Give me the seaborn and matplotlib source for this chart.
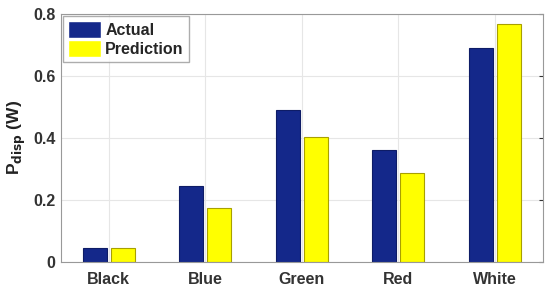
import matplotlib
matplotlib.use("Agg")
import matplotlib.pyplot as plt
import seaborn as sns
import pandas as pd

colors = ["Black", "Blue", "Green", "Red", "White"]
actual = [0.045, 0.245, 0.490, 0.362, 0.690]
prediction = [0.045, 0.174, 0.402, 0.287, 0.768]

df = pd.DataFrame({
    "color": colors * 2,
    "value": actual + prediction,
    "series": ["Actual"] * len(colors) + ["Prediction"] * len(colors),
})

sns.set_style("white")
plt.rcParams["font.family"] = ["Liberation Sans", "DejaVu Sans"]
plt.rcParams["font.weight"] = "bold"

fig, ax = plt.subplots(figsize=(5.5, 2.91), dpi=100)
sns.barplot(data=df, x="color", y="value", hue="series",
            palette={"Actual": "#14288a", "Prediction": "#ffff00"},
            width=0.58, gap=0.14, saturation=1, ax=ax)

for bar, ec in zip(ax.patches, ["#0e1c66"] * 5 + ["#a8a000"] * 5):
    bar.set_edgecolor(ec)
    bar.set_linewidth(0.8)

ax.set_xlim(-0.5, 4.5)
ax.set_ylim(0, 0.8)
ax.set_yticks([0, 0.2, 0.4, 0.6, 0.8])
ax.set_yticklabels(["0", "0.2", "0.4", "0.6", "0.8"])
ax.grid(True, color="#e6e6e6", linewidth=0.8)
ax.set_axisbelow(True)
ax.tick_params(axis="both", labelsize=11.5, colors="#333333", length=3,
               direction="in", right=True, top=False)
ax.tick_params(axis="x", length=0, pad=7)
for lab in ax.get_xticklabels() + ax.get_yticklabels():
    lab.set_fontweight("bold")
for s in ax.spines.values():
    s.set_color("#999999")
    s.set_linewidth(0.8)

ax.set_xlabel("")
ax.set_ylabel(r"P$_{\mathbf{disp}}$ (W)", fontsize=12.5, fontweight="bold",
              color="#222222", labelpad=4)

leg = ax.legend(loc="upper left", fontsize=11.5, frameon=True, fancybox=False,
                edgecolor="#999999", handlelength=2.1, handleheight=1.25,
                handletextpad=0.25, borderpad=0.3, labelspacing=0.15,
                borderaxespad=0.15)
for t in leg.get_texts():
    t.set_fontweight("bold")

fig.subplots_adjust(left=0.11, right=0.987, top=0.952, bottom=0.1)
fig.savefig("out.png", dpi=100)
